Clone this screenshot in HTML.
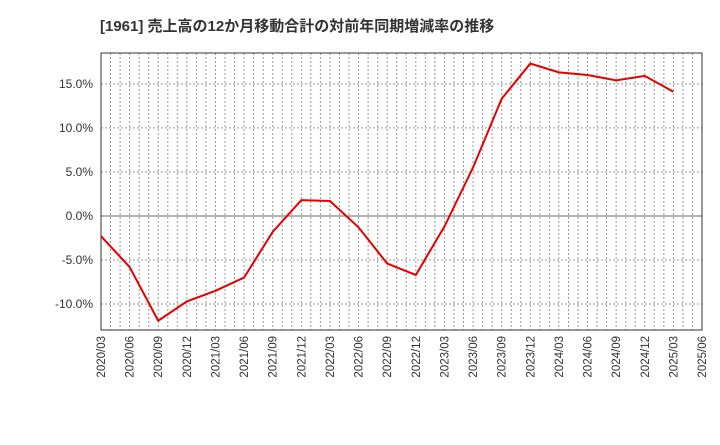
<!DOCTYPE html>
<html><head><meta charset="utf-8"><style>
body{margin:0;background:#fff;}
svg text{font-family:"Liberation Sans","Noto Sans CJK JP",sans-serif;}
</style></head><body>
<svg id="c" width="720" height="440" xmlns="http://www.w3.org/2000/svg">
<text x="100" y="31" font-size="15" font-weight="bold" fill="#333">[1961]  売上高の12か月移動合計の対前年同期増減率の推移</text>
<g id="grid"></g><g id="axes"></g><g id="series"></g>
</svg>
<script>
const categories=["2020/03","2020/06","2020/09","2020/12","2021/03","2021/06","2021/09","2021/12","2022/03","2022/06","2022/09","2022/12","2023/03","2023/06","2023/09","2023/12","2024/03","2024/06","2024/09","2024/12","2025/03","2025/06"];
const values=[-2.3,-5.8,-11.9,-9.7,-8.5,-7.0,-1.8,1.8,1.7,-1.3,-5.4,-6.7,-1.2,5.5,13.3,17.3,16.3,16.0,15.4,15.9,14.1];
const yTicks=[-10,-5,0,5,10,15];
const yTickLabels=["-10.0%","-5.0%","0.0%","5.0%","10.0%","15.0%"];
const L=101,R=702,T=53,B=330,yMin=-12.95,yMax=18.5;
const NS="http://www.w3.org/2000/svg";
const xs=i=>L+(R-L)*i/(categories.length-1);
const ys=v=>B-(v-yMin)/(yMax-yMin)*(B-T);
function mk(p,t,a){const e=document.createElementNS(NS,t);for(const k in a)e.setAttribute(k,a[k]);p.appendChild(e);return e;}
const grid=document.getElementById('grid'),axes=document.getElementById('axes'),ser=document.getElementById('series');
const nM=(categories.length-1)*3;
for(let m=1;m<nM;m++){const x=L+(R-L)*m/nM;
const g=mk(grid,'line',{x1:x,x2:x,y1:T,y2:B,stroke:'#999','stroke-dasharray':'2,2','stroke-width':1});

}
yTicks.forEach((v,i)=>{const y=ys(v);
const g=mk(grid,'line',{x1:L,x2:R,y1:y,y2:y,stroke:v===0?'#666':'#999','stroke-dasharray':v===0?'':'2,2','stroke-width':1});


const t=mk(axes,'text',{x:L-8,y:y+4,'text-anchor':'end','font-size':12,fill:'#333'});t.textContent=yTickLabels[i];

});
const fr=mk(axes,'rect',{x:L,y:T,width:R-L,height:B-T,fill:'none',stroke:'#333','stroke-width':1});


categories.forEach((c,i)=>{const x=xs(i);
const t=mk(axes,'text',{x:x+4,y:B+6,'text-anchor':'end','font-size':11.5,fill:'#333',transform:`rotate(-90 ${x+4} ${B+6})`});t.textContent=c;

});
const pl=mk(ser,'polyline',{points:values.map((v,i)=>xs(i)+','+ys(v)).join(' '),fill:'none',stroke:'#e60000','stroke-width':2});


</script>
</body></html>
